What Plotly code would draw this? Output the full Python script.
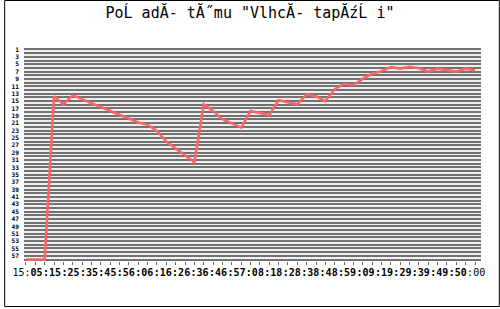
import plotly.graph_objects as go

# one sample per tick
sample_count = 49
sample_index = list(range(sample_count))

# series values
values = [
    0, 0, 0,
    44.3, 42.1, 44.6, 43.4, 42.4, 41.4, 40.3, 39.2, 38.1, 37.2, 36.6, 34.9,
    32.0, 30.1, 28.4, 26.4, 42.1, 40.3, 38.1, 36.9, 35.8, 40.3, 39.8, 39.2,
    43.2, 42.7, 42.1, 44.8, 44.3, 43.0, 46.2, 47.7, 47.3, 49.1, 50.4, 51.1,
    52.2, 51.8, 52.3, 51.9, 51.0, 51.8, 51.4, 51.0, 51.8, 51.3,
]

# x tick labels as they appear (overlapping time labels in the source)
x_tick_labels = [
    "15:05", ":15", ":25", ":35", ":45", ":56", ":06", ":16", ":26", ":36",
    ":46", ":57", ":08", ":18", ":28", ":38", ":48", ":59", ":09", ":19",
    ":29", ":39", ":49", ":50", ":00",
]

# y tick labels (illegible in source; rank-like labels, top = 1)
y_tick_vals = list(range(57, -1, -2))
y_tick_labels = [str(58 - v) for v in y_tick_vals]

title_text = 'PoĹ adĂ- tĂ˝mu "VlhcĂ- tapĂźĹ i"'

W, H = 500, 309
ml, mr, mt, mb = 20, 19, 48, 48
pw, ph = W - ml - mr, H - mt - mb

# x scale: first sample at px 22, last at px 475
x_px0, x_step = 22.0, (475.0 - 22.0) / (sample_count - 1)
x_range = [(ml - x_px0) / x_step, (ml + pw - x_px0) / x_step]

# label positions: labels form one continuous monospace run starting at px 8
char_w = 6.2
label_pos, label_txt = [], []
cursor = 0
for i, t in enumerate(x_tick_labels):
    center_px = 8 + char_w * (cursor + len(t) / 2)
    label_pos.append((center_px - x_px0) / x_step)
    if i == 0:
        label_txt.append(t[:3] + "<b>" + t[3:] + "</b>")
    elif i == len(x_tick_labels) - 1:
        label_txt.append(t)
    else:
        label_txt.append("<b>" + t + "</b>")
    cursor += len(t)

fig = go.Figure()
fig.add_trace(go.Scatter(
    x=sample_index, y=values, mode="lines",
    line=dict(color="#ff6464", width=2.6),
    hoverinfo="skip", showlegend=False,
))

def px_to_paper_x(px):
    return (px - ml) / pw

def py_to_paper_y(py):
    return (H - mb - py) / ph

fig.update_layout(
    width=W, height=H,
    margin=dict(l=ml, r=mr, t=mt, b=mb, pad=0),
    paper_bgcolor="white",
    plot_bgcolor="#efefef",
    title=dict(
        text=title_text, x=0.5, xanchor="center", y=1 - 13 / H, yanchor="middle",
        font=dict(family="DejaVu Sans Mono", size=15, color="black"),
    ),
    xaxis=dict(
        range=x_range, showgrid=False, zeroline=False, showline=False,
        tickmode="array", tickvals=label_pos, ticktext=label_txt,
        ticks="", tickangle=0, ticklabelstandoff=4,
        tickfont=dict(family="DejaVu Sans Mono", size=10, color="black"),
        minor=dict(
            tickmode="array", tickvals=sample_index, ticks="outside",
            ticklen=3, tickwidth=1, tickcolor="#666666", showgrid=False,
        ),
    ),
    yaxis=dict(
        range=[-0.4, 57.4], showgrid=False, zeroline=False, showline=False,
        tickmode="array", tickvals=y_tick_vals, ticktext=y_tick_labels,
        ticks="", ticklabelstandoff=4,
        tickfont=dict(family="DejaVu Sans Mono", size=6.2, color="black",
                      weight="bold"),
        minor=dict(
            tickmode="linear", tick0=0, dtick=1, showgrid=True,
            gridcolor="#727272", gridwidth=1.5, ticks="",
        ),
    ),
    shapes=[dict(
        type="rect", xref="paper", yref="paper",
        x0=px_to_paper_x(0.5), x1=px_to_paper_x(499.5),
        y0=py_to_paper_y(306.5), y1=py_to_paper_y(0.5),
        line=dict(color="black", width=1), fillcolor="rgba(0,0,0,0)",
        layer="above",
    )],
)

fig.write_html("out.html")
